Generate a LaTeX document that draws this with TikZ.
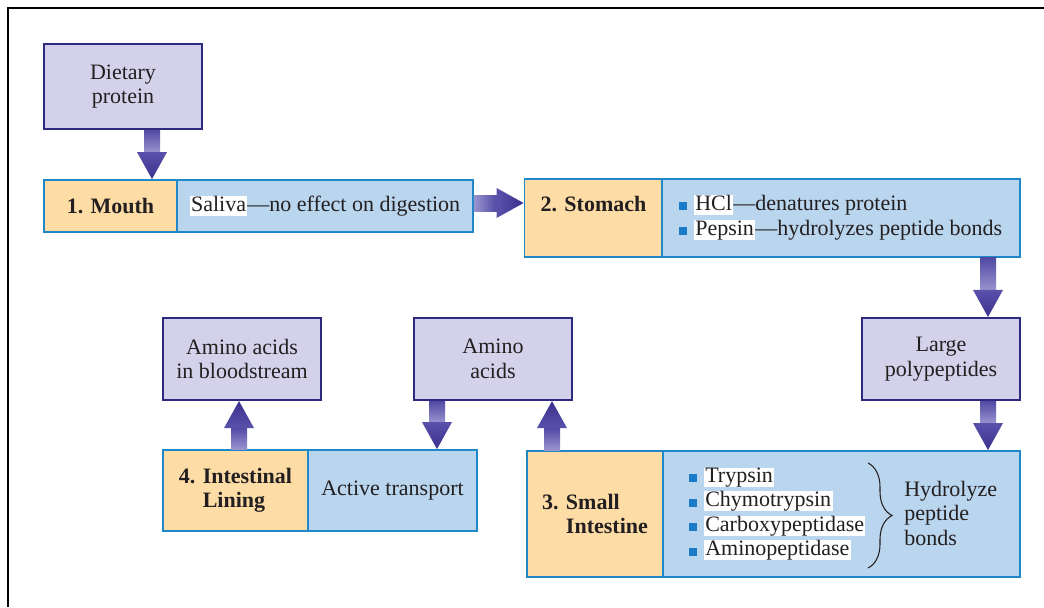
\documentclass[tikz,border=0pt]{standalone}
\usepackage{fontspec}
\setmainfont{Liberation Serif}
\usetikzlibrary{calc,decorations.pathreplacing}
\definecolor{lav}{HTML}{D4D2EB}
\definecolor{lavline}{HTML}{2E2A80}
\definecolor{peach}{HTML}{FDDCA6}
\definecolor{sky}{HTML}{BAD5EE}
\definecolor{skyline}{HTML}{1F88C8}
\definecolor{bul}{HTML}{1A7CC8}
\definecolor{ink}{HTML}{231F20}
\definecolor{arrA}{HTML}{5249A4}
\definecolor{arrB}{HTML}{9A94CF}
\definecolor{arrHa}{HTML}{5A51AB}
\definecolor{arrHb}{HTML}{3B318E}
\newcommand\wb[1]{{\setlength\fboxsep{0pt}\colorbox{white}{\rule[-3.6pt]{0pt}{12.6pt}\kern1pt#1\kern1pt}}}
\newcommand\bsq{\textcolor{bul}{\rule{6pt}{6pt}}\hspace{5pt}}
% fat arrows: #1 point giving the axis, #2 start, #3 tip
\newcommand\downfat[3]{%
  \shade[top color=arrA,bottom color=arrB] let \p1=#1,\p2=#2,\p3=#3 in
    (\x1-6pt,\y2) rectangle (\x1+6pt,\y3+20pt);
  \shade[top color=arrHa,bottom color=arrHb] let \p1=#1,\p2=#2,\p3=#3 in
    (\x1-11.25pt,\y3+20.25pt) -- (\x1+11.25pt,\y3+20.25pt) -- (\x1,\y3) -- cycle;}
\newcommand\upfat[3]{%
  \shade[top color=arrA,bottom color=arrB] let \p1=#1,\p2=#2,\p3=#3 in
    (\x1-6pt,\y2) rectangle (\x1+6pt,\y3-20pt);
  \shade[top color=arrHb,bottom color=arrHa] let \p1=#1,\p2=#2,\p3=#3 in
    (\x1-11.25pt,\y3-20.25pt) -- (\x1+11.25pt,\y3-20.25pt) -- (\x1,\y3) -- cycle;}
\newcommand\rightfat[3]{%
  \shade[left color=arrB,right color=arrA] let \p1=#1,\p2=#2,\p3=#3 in
    (\x2,\y1-6pt) rectangle (\x3-20pt,\y1+6pt);
  \shade[left color=arrHa,right color=arrHb] let \p1=#1,\p2=#2,\p3=#3 in
    (\x3-20.25pt,\y1-11.25pt) -- (\x3-20.25pt,\y1+11.25pt) -- (\x3,\y1) -- cycle;}
\tikzset{
  base/.style={inner sep=0pt, text=ink, font=\fontsize{16.5}{18.4}\selectfont},
  purp/.style={base, draw=lavline, fill=lav, line width=1.6pt, align=center},
  orng/.style={base, draw=skyline, fill=peach, line width=1.4pt, font=\fontsize{16.5}{18.4}\selectfont\bfseries},
  blu/.style={base, draw=skyline, fill=sky, line width=1.4pt},
  txt/.style={base, align=left},
  lbl/.style={base, font=\fontsize{16.5}{18.4}\selectfont\bfseries}
}
\begin{document}
\begin{tikzpicture}[x=0.75pt,y=-0.75pt]
\useasboundingbox (0,0) rectangle (1044,607);
\fill[white] (0,0) rectangle (1044,607);
\draw[line width=2.2pt,black] (8,607) -- (8,8) -- (1044,8);

% row 1
\node[purp, minimum width=118.5pt, minimum height=63.75pt] (diet) at (123,86.5) {Dietary\\protein};
\node[orng, minimum width=99.75pt, minimum height=39pt] (mouthO) at (110.5,206) {1. Mouth};
\node[blu, minimum width=222pt, minimum height=39pt] (mouthB) at (325,206) {\wb{Saliva}—no effect on digestion};

\node[orng, minimum width=103.5pt, minimum height=58.5pt] (stomO) at (593.5,218) {};
\node[lbl] (stomL) at (593.5,204) {2. Stomach};
\node[blu, minimum width=268.5pt, minimum height=58.5pt] (stomB) at (841,218) {};
\node[txt, anchor=west] (stomT) at (679,217.5) {\bsq\wb{HCl}—denatures protein\\\bsq\wb{Pepsin}—hydrolyzes peptide bonds};

% middle row
\node[purp, minimum width=118.5pt, minimum height=61.5pt] (poly) at (941,359) {Large\\polypeptides};
\node[purp, minimum width=118.5pt, minimum height=61.5pt] (amino) at (493,359) {Amino\\acids};
\node[purp, minimum width=118.5pt, minimum height=61.5pt] (blood) at (242,359) {Amino acids\\in bloodstream};

% bottom row
\node[orng, align=left, minimum width=102pt, minimum height=94.5pt] (siO) at (595,514) {3. Small\\\hphantom{3. }Intestine};
\node[blu, minimum width=267.75pt, minimum height=94.5pt] (siB) at (841.5,514) {};
\node[txt, anchor=west] (siT) at (689,514) {\bsq\wb{Trypsin}\\\bsq\wb{Chymotrypsin}\\\bsq\wb{Carboxypeptidase}\\\bsq\wb{Aminopeptidase}};
\coordinate (brT) at (868,463);
\coordinate (brB) at (868,568);
\draw[decorate, decoration={brace, amplitude=18pt, aspect=0.5}, ink, line width=0.8pt] (brT) -- (brB);
\node[txt, anchor=west] (hyd) at (904,513) {Hydrolyze\\peptide\\bonds};

\node[orng, align=left, minimum width=108.75pt, minimum height=60.75pt] (ilO) at (235.5,490.5) {4. Intestinal\\\hphantom{4. }Lining};
\node[blu, minimum width=126.75pt, minimum height=60.75pt] (ilB) at (392.5,490.5) {Active transport};

% arrows
\downfat{([xshift=21.75pt]diet.south)}{(diet.south)}{(mouthO.north)}
\rightfat{([yshift=2.25pt]mouthB.east)}{(mouthB.east)}{(stomO.west)}
\downfat{([xshift=35.25pt]poly.north)}{(stomB.south)}{(poly.north)}
\downfat{([xshift=35.25pt]poly.south)}{(poly.south)}{(siB.north)}
\upfat{([xshift=-32.25pt]siO.north)}{(siO.north)}{(amino.south)}
\downfat{([xshift=-42pt]amino.south)}{(amino.south)}{(ilB.north)}
\upfat{([xshift=-2.25pt]blood.south)}{(ilO.north)}{(blood.south)}
\end{tikzpicture}
\end{document}
